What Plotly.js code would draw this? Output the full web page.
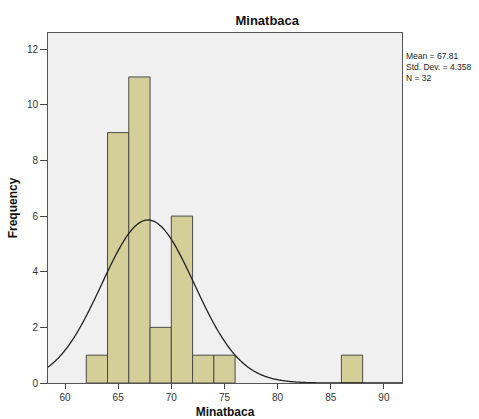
<!DOCTYPE html>
<html><head><meta charset="utf-8">
<script src="https://cdn.plot.ly/plotly-3.0.1.min.js"></script>
<style>html,body{margin:0;padding:0;background:#fff;}#chart{width:479px;height:419px;}</style>
</head><body><div id="chart"></div>
<script>
const binStart = [62, 64, 66, 68, 70, 72, 74, 86];
const counts = [1, 9, 11, 2, 6, 1, 1, 1];
const binWidth = 2;
const meanVal = 67.81;
const sdVal = 4.358;
const nVal = 32;
const xRange = [58.4, 91.7];
const yRange = [0, 12.58];

const centers = binStart.map(b => b + binWidth / 2);
const cx = [], cy = [];
const steps = 300;
for (let i = 0; i <= steps; i++) {
  const x = xRange[0] + (xRange[1] - xRange[0]) * i / steps;
  const z = (x - meanVal) / sdVal;
  cx.push(x);
  cy.push(nVal * binWidth * Math.exp(-0.5 * z * z) / (sdVal * Math.sqrt(2 * Math.PI)));
}

const font = "Liberation Sans, Arial, sans-serif";
const data = [
  {type: 'bar', x: centers, y: counts, width: binWidth,
   marker: {color: '#d4cf99', line: {color: '#4a4a4a', width: 1}}, hoverinfo: 'skip'},
  {type: 'scatter', mode: 'lines', x: cx, y: cy,
   line: {color: '#222', width: 1.3, shape: 'spline'}, hoverinfo: 'skip'}
];
const layout = {
  width: 479, height: 419,
  margin: {l: 48, r: 77, t: 33, b: 36},
  paper_bgcolor: '#fff', plot_bgcolor: '#f0f0f0',
  showlegend: false, bargap: 0,
  font: {family: font, color: '#222', size: 10},
  title: {text: '<b>Minatbaca</b>', x: 0.558, xanchor: 'center', y: 0.952, yanchor: 'middle',
          font: {family: font, size: 13, color: '#111'}},
  xaxis: {range: xRange, tickvals: [60, 65, 70, 75, 80, 85, 90], ticks: 'outside', ticklen: 5,
          tickcolor: '#444', showgrid: false, zeroline: false, showline: true, mirror: true,
          linecolor: '#555', linewidth: 1, tickfont: {size: 10, color: '#333'},
          title: {text: '<b>Minatbaca</b>', standoff: 8, font: {size: 12, color: '#111'}}},
  yaxis: {range: yRange, tickvals: [0, 2, 4, 6, 8, 10, 12], ticks: 'outside', ticklen: 7,
          tickcolor: '#444', showgrid: false, zeroline: false, showline: true, mirror: true,
          linecolor: '#555', linewidth: 1, tickfont: {size: 10, color: '#333'},
          title: {text: '<b>Frequency</b>', standoff: 6, font: {size: 12, color: '#111'}}},
  annotations: [{
    xref: 'paper', yref: 'paper', x: 1.005, y: 0.955, xanchor: 'left', yanchor: 'top',
    align: 'left', showarrow: false,
    text: 'Mean = ' + meanVal.toFixed(2) + '<br>Std. Dev. = ' + sdVal.toFixed(3) + '<br>N = ' + nVal,
    font: {size: 8.5, color: '#222', family: font}
  }]
};
Plotly.newPlot('chart', data, layout, {staticPlot: true, displayModeBar: false});
</script></body></html>
